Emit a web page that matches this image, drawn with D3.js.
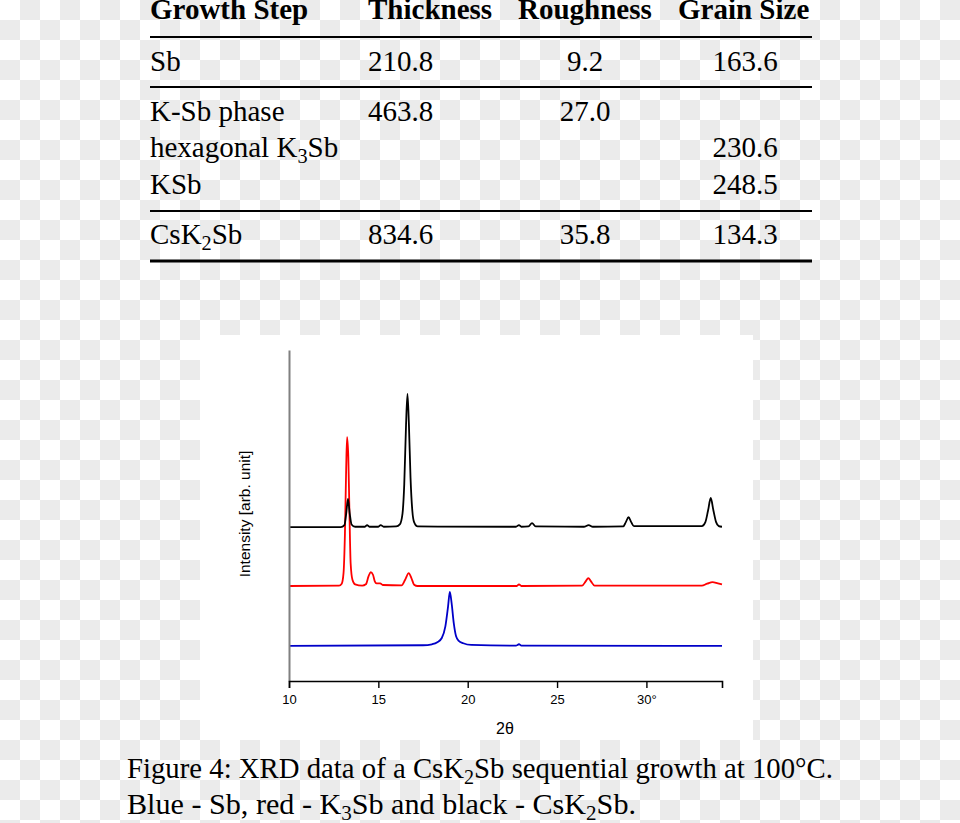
<!DOCTYPE html>
<html>
<head>
<meta charset="utf-8">
<script src="https://cdn.jsdelivr.net/npm/d3@7/dist/d3.min.js"></script>
<style>
  html, body { margin: 0; padding: 0; background: #fff; }
  svg { display: block; }
</style>
</head>
<body>
<script>
// ---------- Table data ----------
const tableHeaders = ["Growth Step", "Thickness", "Roughness", "Grain Size"];
const growthSteps = [
  [{t: "Sb"}],
  [{t: "K-Sb phase"}],
  [{t: "hexagonal K"}, {t: "3", sub: true}, {t: "Sb"}],
  [{t: "KSb"}],
  [{t: "CsK"}, {t: "2", sub: true}, {t: "Sb"}]
];
const thicknessVals = ["210.8", "463.8", "", "", "834.6"];
const roughnessVals = ["9.2", "27.0", "", "", "35.8"];
const grainSizeVals = ["163.6", "", "230.6", "248.5", "134.3"];

// ---------- XRD data (2θ [deg], intensity [arb. unit, with offsets]) ----------
const xTicks = [10, 15, 20, 25, 30];
const xTickLabels = ["10", "15", "20", "25", "30°"];
const xLabel = "2θ";
const yLabel = "Intensity [arb. unit]";

const blackCsK2Sb = [
  [10.0,46.5],[12.9,46.5],[13.1,47.1],[13.2,50.5],[13.3,55.0],[13.4,50.5],[13.5,47.3],[13.7,46.6],
  [14.25,46.6],[14.37,47.1],[14.5,46.6],[15.0,46.6],[15.13,47.1],[15.3,46.6],[16.0,46.7],[16.2,47.3],
  [16.35,50.5],[16.45,59.5],[16.55,77.5],[16.63,86.7],[16.71,77.5],[16.8,61.5],[16.9,51.5],[17.0,48.0],
  [17.2,46.7],[22.7,46.6],[22.87,47.1],[23.0,46.6],[23.4,46.7],[23.6,47.7],[23.8,46.7],[26.5,46.6],
  [26.77,47.1],[27.0,46.6],[28.7,46.7],[28.85,48.0],[29.0,49.5],[29.15,48.0],[29.3,46.8],[33.1,46.8],
  [33.3,48.0],[33.45,51.5],[33.6,55.3],[33.75,51.5],[33.9,48.0],[34.05,46.8],[34.23,46.6]
];
const redK3Sb = [
  [10.0,28.7],[12.8,28.8],[12.95,29.4],[13.05,32.5],[13.13,44.5],[13.2,64.5],[13.25,73.7],[13.32,67.5],
  [13.38,51.5],[13.45,35.5],[13.55,30.6],[13.7,29.2],[14.1,28.8],[14.3,29.2],[14.45,31.6],[14.57,32.9],
  [14.7,32.1],[14.8,30.1],[14.9,29.5],[15.1,29.5],[15.25,29.0],[16.3,28.9],[16.5,30.6],[16.7,32.6],
  [16.85,31.1],[17.0,29.1],[17.2,28.7],[22.75,28.7],[22.87,29.2],[23.0,28.7],[26.4,28.8],[26.6,30.1],
  [26.75,31.1],[26.9,30.1],[27.1,28.8],[33.1,28.8],[33.4,29.4],[33.7,29.9],[34.0,29.5],[34.23,29.2]
];
const blueSb = [
  [10.0,10.6],[17.5,10.8],[18.0,11.1],[18.3,11.7],[18.55,13.0],[18.75,16.5],[18.9,22.5],[19.0,26.9],
  [19.1,23.5],[19.22,17.5],[19.35,13.5],[19.5,12.1],[19.75,11.4],[20.2,10.9],[22.7,10.7],[22.87,11.1],
  [23.0,10.7],[34.23,10.6]
];
const seriesColors = ["#0000c8", "#ff0000", "#000000"];

// ---------- Caption ----------
const captionLine1 = [{t: "Figure 4: XRD data of a CsK"}, {t: "2", sub: true}, {t: "Sb sequential growth at 100°C."}];
const captionLine2 = [{t: "Blue - Sb, red - K"}, {t: "3", sub: true}, {t: "Sb and black - CsK"}, {t: "2", sub: true}, {t: "Sb."}];

// ---------- Drawing ----------
const W = 960, H = 823;
const svg = d3.select("body").append("svg").attr("width", W).attr("height", H);

// checkerboard background
const defs = svg.append("defs");
const pat = defs.append("pattern").attr("id", "checker").attr("patternUnits", "userSpaceOnUse")
  .attr("width", 40).attr("height", 40);
pat.append("rect").attr("width", 40).attr("height", 40).attr("fill", "#ffffff");
pat.append("rect").attr("x", 20).attr("y", 0).attr("width", 20).attr("height", 20).attr("fill", "#ebebeb");
pat.append("rect").attr("x", 0).attr("y", 20).attr("width", 20).attr("height", 20).attr("fill", "#ebebeb");
svg.append("rect").attr("width", W).attr("height", H).attr("fill", "url(#checker)");

const serif = "'Liberation Serif', 'Times New Roman', serif";
const sans = "'Liberation Sans', Arial, sans-serif";

function richText(sel, parts, size) {
  parts.forEach(p => {
    if (p.sub) {
      sel.append("tspan").attr("font-size", size * 0.7).attr("dy", size * 0.22).text(p.t);
    } else {
      const ts = sel.append("tspan").text(p.t);
      if (sel.node().childNodes.length > 1) {
        const prev = sel.node().childNodes[sel.node().childNodes.length - 2];
        if (prev.getAttribute("font-size")) ts.attr("dy", -size * 0.22);
      }
    }
  });
}

// Table
const table = svg.append("g").attr("font-family", serif).attr("fill", "#000");
const fs = 29;
const colX = [150, 368, 585, 745];
const colAnchor = ["start", "start", "middle", "middle"];
const headerX = [150, 368, 518, 678];
tableHeaders.forEach((h, i) => {
  table.append("text").attr("x", headerX[i]).attr("y", 19).attr("font-size", fs)
    .attr("font-weight", "bold").text(h);
});
const rowBase = [71, 121, 157, 194, 244];
growthSteps.forEach((parts, i) => {
  const t = table.append("text").attr("x", colX[0]).attr("y", rowBase[i]).attr("font-size", fs);
  richText(t, parts, fs);
  [thicknessVals, roughnessVals, grainSizeVals].forEach((arr, j) => {
    if (arr[i]) table.append("text").attr("x", colX[j + 1]).attr("y", rowBase[i])
      .attr("font-size", fs).attr("text-anchor", colAnchor[j + 1]).text(arr[i]);
  });
});
const rules = [[37, 1.8], [87, 1.8], [211, 1.8], [261, 2.8]];
rules.forEach(r => {
  table.append("line").attr("x1", 150).attr("x2", 812).attr("y1", r[0]).attr("y2", r[0])
    .attr("stroke", "#000").attr("stroke-width", r[1]);
});

// Chart panel
svg.append("rect").attr("x", 200).attr("y", 335).attr("width", 553).attr("height", 405).attr("fill", "#fff");

const x = d3.scaleLinear().domain([10, 34.23]).range([289, 722]);
const y = d3.scaleLinear().domain([0, 100]).range([681, 350]);

const line = d3.line().x(d => x(d[0])).y(d => y(d[1])).curve(d3.curveMonotoneX);
[blueSb, redK3Sb, blackCsK2Sb].forEach((s, i) => {
  svg.append("path").datum(s).attr("d", line).attr("fill", "none")
    .attr("stroke", seriesColors[i]).attr("stroke-width", 1.8).attr("stroke-linejoin", "round");
});

// y axis (no ticks)
const yAxis = svg.append("g").attr("transform", "translate(289,0)")
  .call(d3.axisLeft(y).tickValues([]).tickSizeOuter(0));
yAxis.select(".domain").attr("stroke", "#808080").attr("stroke-width", 2);

// x axis
const xAxis = svg.append("g").attr("transform", "translate(0,681)")
  .call(d3.axisBottom(x).tickValues(xTicks).tickFormat((d, i) => xTickLabels[i]).tickSizeOuter(0).tickSize(7).tickPadding(7));
xAxis.select(".domain").attr("stroke", "#000").attr("stroke-width", 1.6);
xAxis.selectAll(".tick line").attr("stroke", "#000").attr("stroke-width", 1.4);
xAxis.selectAll(".tick text").attr("font-family", sans).attr("font-size", 13).attr("fill", "#000");

svg.append("text").attr("x", 505).attr("y", 734).attr("text-anchor", "middle")
  .attr("font-family", sans).attr("font-size", 16).attr("fill", "#000").text(xLabel);
svg.append("text").attr("transform", "translate(250,514) rotate(-90)").attr("text-anchor", "middle")
  .attr("font-family", sans).attr("font-size", 15.5).attr("fill", "#000").text(yLabel);

// Caption
const cap = svg.append("g").attr("font-family", serif).attr("fill", "#000");
const c1 = cap.append("text").attr("x", 127).attr("y", 778).attr("font-size", fs)
  .attr("textLength", 706).attr("lengthAdjust", "spacingAndGlyphs");
richText(c1, captionLine1, fs);
const c2 = cap.append("text").attr("x", 127).attr("y", 814).attr("font-size", fs)
  .attr("textLength", 509).attr("lengthAdjust", "spacingAndGlyphs");
richText(c2, captionLine2, fs);
</script>
</body>
</html>
